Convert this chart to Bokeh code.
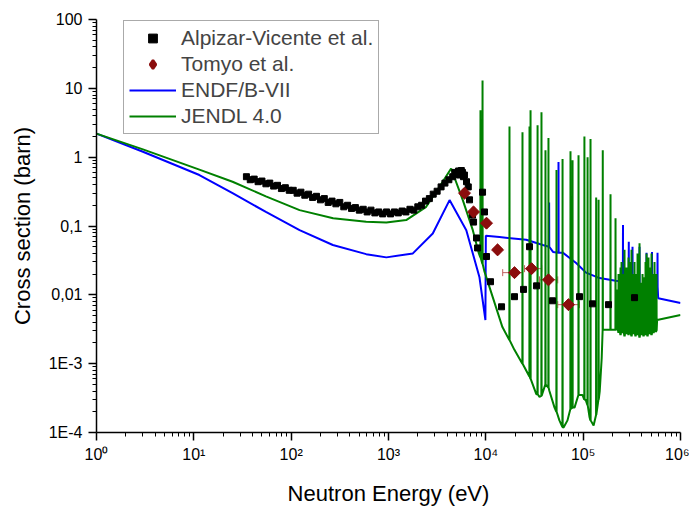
import math
from bokeh.plotting import figure
from bokeh.models import (ColumnDataSource, FixedTicker, CustomJSTickFormatter,
                          Legend, LegendItem, Whisker, TeeHead)
from bokeh.embed import file_html
from bokeh.resources import INLINE

FONT = "Liberation Sans"

# ---------------- data ----------------
# Alpizar-Vicente et al. (black squares)
alp_E = [34.7, 38.0, 41.7, 45.7, 50.1, 55.0, 60.3, 66.1, 72.4, 79.4, 87.1, 95.5,
         105, 115, 126, 138, 151, 166, 182, 200, 219, 240, 263, 288, 316, 347,
         380, 417, 457, 501, 550, 603, 661, 724, 794, 871, 955, 1050, 1150, 1260,
         1380, 1510, 1660, 1820, 2000, 2190, 2400, 2630, 2880, 3160, 3470, 3800,
         4170, 4570, 4800, 5010, 5250, 5370, 5600, 5750, 5900, 6030,
         6330, 6600, 6800, 7300, 7480, 8020, 8220, 9250, 9690, 10160, 11170,
         14500, 19700, 24400, 28100, 33200, 48400, 91700, 124800, 182000, 337000]
alp_xs = [0.52, 0.47, 0.48, 0.44, 0.45, 0.41, 0.42, 0.38, 0.39, 0.35, 0.36, 0.33,
          0.33, 0.30, 0.31, 0.28, 0.29, 0.26, 0.27, 0.24, 0.25, 0.22, 0.23, 0.21, 0.22, 0.19,
          0.20, 0.18, 0.185, 0.17, 0.175, 0.16, 0.17, 0.155, 0.16, 0.15, 0.16, 0.15, 0.16, 0.155,
          0.165, 0.16, 0.175, 0.17, 0.19, 0.20, 0.23, 0.25, 0.29, 0.32, 0.37, 0.42,
          0.47, 0.52, 0.60, 0.57, 0.63, 0.55, 0.64, 0.60, 0.52, 0.55,
          0.44, 0.37, 0.24, 0.144, 0.114, 0.067, 0.048, 0.31, 0.16, 0.036, 0.0155,
          0.0067, 0.0094, 0.012, 0.05, 0.0135, 0.0082, 0.0094, 0.0074, 0.0072, 0.0091]

# Tomyo et al. (dark red diamonds with energy error bars)
tom_E = [6040, 7470, 10160, 13200, 19700, 29500, 44000, 70600]
tom_xs = [0.30, 0.16, 0.11, 0.045, 0.021, 0.024, 0.0165, 0.0072]
tom_E_lo = [5900, 7300, 9650, 12800, 14900, 25000, 35600, 54800]
tom_E_hi = [6200, 7650, 10800, 13600, 23800, 37500, 54800, 91700]

# ENDF/B-VII (blue) : smooth part
endf_E = [1, 3, 11.4, 25, 55, 122, 268, 590, 950, 1780, 2850, 4240, 6300, 8600,
          9900, 10000, 13800, 26000, 38500, 49000, 61700, 84700, 107000, 147000,
          216000, 240000, 590000, 1000000]
endf_xs = [2.2, 1.2, 0.55, 0.30, 0.16, 0.087, 0.053, 0.039, 0.035, 0.040, 0.078, 0.238,
           0.087, 0.018, 0.0043, 0.072, 0.069, 0.063, 0.053, 0.042, 0.041, 0.029, 0.021,
           0.0175, 0.016, 0.0157, 0.0089, 0.0076]
# ENDF/B-VII resonances: energy, peak, floor
endf_res_E = [44700, 55800, 256500, 294200, 321400, 379300, 447600, 509600, 580700]
endf_res_top = [0.22, 0.85, 0.103, 0.059, 0.05, 0.05, 0.041, 0.042, 0.041]
endf_res_floor = [0.05, 0.041, 0.0155, 0.015, 0.0148, 0.0145, 0.014, 0.0135, 0.013]

# JENDL 4.0 (green) : smooth part / envelope
jendl_E = [1, 3, 11.4, 25, 55, 122, 270, 590, 950, 1520, 2440, 3340, 4400, 5800,
           7350, 8480, 9690, 14800, 19600, 33000, 35600, 45000, 50800, 57000, 62900,
           69000, 81500, 98500, 106000, 116000, 128000, 148000, 155000, 217000,
           575000, 1000000]
jendl_xs = [2.2, 1.3, 0.66, 0.44, 0.27, 0.17, 0.13, 0.115, 0.112, 0.122, 0.19, 0.37,
            0.685, 0.238, 0.087, 0.040, 0.0217, 0.0034, 0.0016, 3.6e-4, 3.3e-4, 4e-4,
            2.3e-4, 1.5e-4, 1.18e-4, 1.5e-4, 2.3e-4, 3.5e-4, 3e-4, 1.7e-4, 1.26e-4,
            4e-4, 1.2e-3, 0.0031, 0.0043, 0.0051]
# JENDL 4.0 resonances: energy, peak, floor
jendl_res_E = [8810, 9250, 17500, 23800, 28100, 28800, 34000, 37300, 41000, 44000,
               53200, 61400, 74100, 77800, 89600, 103000, 111000, 119000, 136000,
               144000, 159000, 191000, 215000,
               225400, 230800, 236300, 242000, 247800, 253700, 259800, 266000, 272400,
               278900, 285600, 292400, 299400, 306600, 313900, 321400, 329100, 337000,
               345100, 353400, 361800, 370500, 379300, 388400, 397700, 407200, 417000,
               427000, 437200, 447600, 458300, 469300, 480600, 492100, 503800, 515900,
               528200, 540900, 553800, 567100]
jendl_res_top = [4.8, 13.0, 2.8, 2.3, 2.8, 4.8, 2.9, 4.5, 1.26, 1.9,
                 0.65, 0.94, 1.22, 0.9, 1.07, 2.0, 1.0, 1.84, 0.26,
                 0.24, 1.26, 0.29, 0.13,
                 0.012, 0.02, 0.008, 0.025, 0.030, 0.015, 0.02, 0.045, 0.012,
                 0.025, 0.018, 0.035, 0.01, 0.03, 0.045, 0.02, 0.012, 0.03,
                 0.02, 0.008, 0.04, 0.025, 0.056, 0.015, 0.01, 0.02, 0.008,
                 0.018, 0.03, 0.04, 0.02, 0.035, 0.012, 0.025, 0.04, 0.02,
                 0.015, 0.03, 0.012, 0.02]
jendl_res_floor = [0.035, 0.028, 0.0022, 0.001, 6.5e-4, 6e-4, 3.6e-4, 3.4e-4, 5e-4, 4.5e-4,
                   2e-4, 1.2e-4, 2.2e-4, 2.3e-4, 3.5e-4, 3e-4, 2.5e-4, 1.5e-4, 1.8e-4,
                   3e-4, 0.0031, 0.0031, 0.0031,
                   0.0033, 0.0028, 0.0031, 0.0026, 0.0032, 0.0028, 0.0030, 0.0025, 0.0031,
                   0.0027, 0.0032, 0.0026, 0.0030, 0.0028, 0.0025, 0.0031, 0.0027, 0.0029,
                   0.0025, 0.0030, 0.0026, 0.0028, 0.0024, 0.0029, 0.0026, 0.0030, 0.0025,
                   0.0028, 0.0026, 0.0029, 0.0025, 0.0030, 0.0027, 0.0029, 0.0026, 0.0030,
                   0.0028, 0.0031, 0.0029, 0.0030]

# axis ticks
x_tick_vals = [1, 10, 100, 1000, 10000, 100000, 1000000]
x_tick_labels = ["10\u2070", "10\u00b9", "10\u00b2", "10\u00b3", "10\u2074", "10\u2075", "10\u2076"]
y_tick_vals = [1e-4, 1e-3, 0.01, 0.1, 1, 10, 100]
y_tick_labels = ["1E-4", "1E-3", "0,01", "0,1", "1", "10", "100"]


def with_resonances(E, xs, rE, rtop, rfloor, w=1.003):
    pts = list(zip(E, xs))
    for e, t, f in zip(rE, rtop, rfloor):
        pts += [(e / w, f), (e, t), (e * w, f)]
    pts.sort()
    return [p[0] for p in pts], [p[1] for p in pts]


endf_line_E, endf_line_xs = with_resonances(endf_E, endf_xs, endf_res_E, endf_res_top, endf_res_floor)
jendl_line_E, jendl_line_xs = with_resonances(jendl_E, jendl_xs, jendl_res_E, jendl_res_top, jendl_res_floor)

# ---------------- figure ----------------
p = figure(x_axis_type="log", y_axis_type="log",
           x_range=(1, 1e6), y_range=(1e-4, 100),
           frame_width=584, frame_height=413,
           min_border_left=96, min_border_right=9, min_border_top=19, min_border_bottom=74,
           output_backend="svg", toolbar_location=None, background_fill_color="white",
           border_fill_color="white")
p.outline_line_color = None
p.xgrid.visible = False
p.ygrid.visible = False

r_endf = p.line(endf_line_E, endf_line_xs, line_color="#0000ff", line_width=2)
r_jendl = p.line(jendl_line_E, jendl_line_xs, line_color="#008000", line_width=2)

r_alp = p.scatter(alp_E, alp_xs, marker="square", size=6, fill_color="black", line_color="black")

tom_src = ColumnDataSource(dict(E=tom_E, xs=tom_xs, lo=tom_E_lo, hi=tom_E_hi))
wh = Whisker(source=tom_src, base="xs", lower="lo", upper="hi", dimension="width",
             line_color="#c06060", line_width=1,
             lower_head=TeeHead(size=7, line_color="#c06060", line_width=1),
             upper_head=TeeHead(size=7, line_color="#c06060", line_width=1))
p.add_layout(wh)
# diamond glyph (used for the legend entry; hidden below the rotated squares)
r_tom_leg = p.scatter("E", "xs", source=tom_src, marker="diamond", size=9,
                      fill_color="#8b0d0d", line_color="#8b0d0d", line_width=2.5)
r_tom = p.scatter("E", "xs", source=tom_src, marker="square", angle=math.pi / 4, size=8.5,
                  fill_color="#8b0d0d", line_color="#8b0d0d")

# axes
xminor = [k * 10 ** d for d in range(0, 6) for k in range(2, 10)]
yminor = [k * 10.0 ** d for d in range(-4, 2) for k in range(2, 10)]
p.xaxis.ticker = FixedTicker(ticks=x_tick_vals, minor_ticks=xminor)
p.yaxis.ticker = FixedTicker(ticks=y_tick_vals, minor_ticks=yminor)
fmt_code = """
for (let i = 0; i < vals.length; i++) {
  if (Math.abs(Math.log10(tick) - Math.log10(vals[i])) < 1e-6) { return labs[i]; }
}
return "";
"""
p.xaxis.formatter = CustomJSTickFormatter(args=dict(vals=x_tick_vals, labs=x_tick_labels), code=fmt_code)
p.yaxis.formatter = CustomJSTickFormatter(args=dict(vals=y_tick_vals, labs=y_tick_labels), code=fmt_code)

for ax in (p.xaxis[0], p.yaxis[0]):
    ax.axis_line_width = 1.5
    ax.axis_line_color = "black"
    ax.major_tick_line_width = 1.5
    ax.minor_tick_line_width = 1
    ax.major_tick_out = 8
    ax.major_tick_in = 0
    ax.minor_tick_out = 4
    ax.minor_tick_in = 0
    ax.major_label_text_font = FONT
    ax.major_label_text_font_size = "16px"
    ax.major_label_text_color = "black"
    ax.axis_label_text_font = FONT
    ax.axis_label_text_font_size = "22px"
    ax.axis_label_text_font_style = "normal"
    ax.axis_label_text_color = "black"

p.xaxis.axis_label = "Neutron Energy (eV)"
p.yaxis.axis_label = "Cross section (barn)"
p.xaxis.major_label_standoff = 5
p.xaxis.axis_label_standoff = 15
p.yaxis.major_label_standoff = 6
p.yaxis.axis_label_standoff = 11

legend = Legend(items=[LegendItem(label="Alpizar-Vicente et al.", renderers=[r_alp]),
                       LegendItem(label="Tomyo et al.", renderers=[r_tom_leg]),
                       LegendItem(label="ENDF/B-VII", renderers=[r_endf]),
                       LegendItem(label="JENDL 4.0", renderers=[r_jendl])],
                location=(27, 298), padding=5, spacing=2, margin=0,
                glyph_width=47, glyph_height=22, label_height=22, label_standoff=5,
                label_text_font=FONT, label_text_font_size="21px",
                border_line_color="#555555", border_line_width=1,
                background_fill_color="white", background_fill_alpha=1.0)
p.add_layout(legend)

open("out.html", "w").write(file_html(p, INLINE))
